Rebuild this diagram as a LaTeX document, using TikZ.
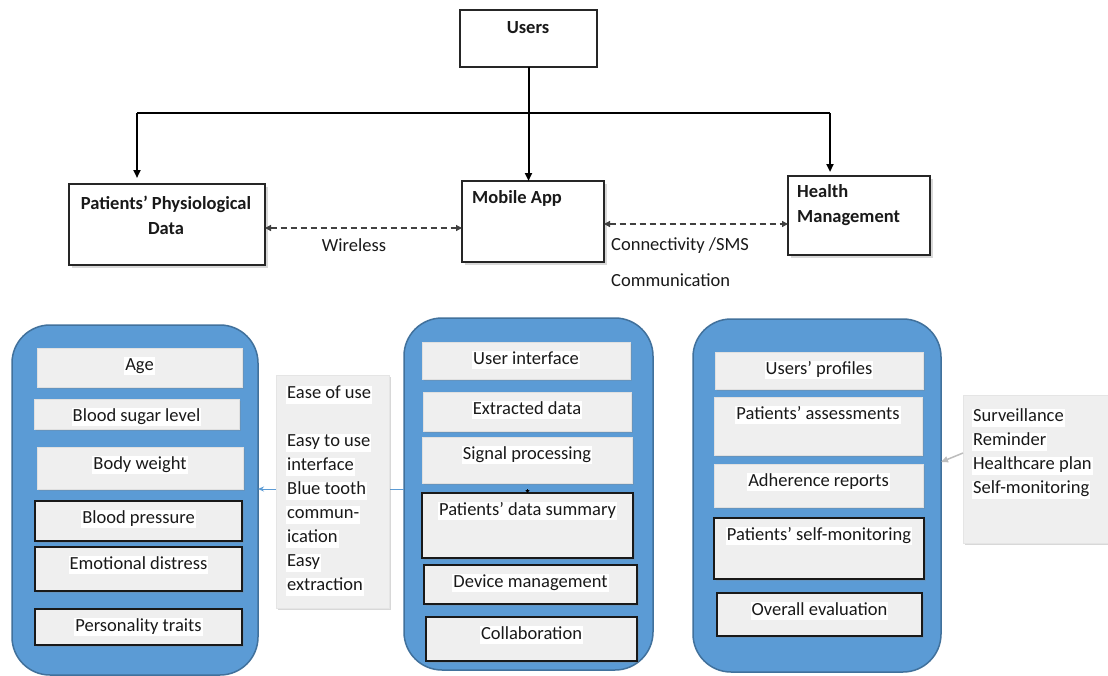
\documentclass[tikz,border=0pt]{standalone}
\usepackage{fontspec}
\setmainfont{Carlito}
\usetikzlibrary{arrows.meta,shadows,calc}

\definecolor{panelblue}{HTML}{5B9BD5}
\definecolor{paneledge}{HTML}{41719C}
\definecolor{cardgray}{HTML}{EFEFEF}
\definecolor{linkblue}{HTML}{5B9BD5}
\definecolor{pointergray}{HTML}{BDBDBD}

\tikzset{
  x=1pt, y=-1pt,
  every node/.style={font=\fontsize{18.5}{24}\selectfont, text=black!90},
  topbox/.style={draw=black!85, line width=1.4pt, fill=white, inner sep=0pt, outer sep=0pt},
  shadowed/.style={drop shadow={opacity=0.3, shadow xshift=2.5pt, shadow yshift=-2.5pt}},
  boldtext/.style={font=\fontsize{18.5}{25}\selectfont\bfseries, inner sep=0pt},
  plaintext/.style={inner sep=0pt},
  panel/.style={draw=paneledge, line width=1.5pt, fill=panelblue, rounded corners=38pt, inner sep=0pt, outer sep=0pt},
  card/.style={fill=cardgray, draw=black!12, line width=0.5pt, inner sep=0pt, outer sep=0pt,
    drop shadow={opacity=0.25, shadow xshift=1.5pt, shadow yshift=-1.5pt}},
  framed/.style={draw=black!90, line width=1.3pt},
  cardtext/.style={fill=white, inner sep=1pt, text height=12pt, text depth=4pt},
  notebox/.style={fill=cardgray, draw=black!10, line width=0.5pt, inner sep=0pt, outer sep=0pt,
    drop shadow={opacity=0.3, shadow xshift=2pt, shadow yshift=-2pt}},
  notetext/.style={fill=white, inner sep=1pt, anchor=west, text height=12pt, text depth=4pt},
  feed/.style={line width=2pt, draw=black},
  feedarrow/.style={feed, -{Triangle[length=8pt,width=7pt]}},
  link/.style={dash pattern=on 6pt off 4pt, line width=1.3pt, draw=black!75,
    {Triangle[length=6pt,width=6pt]}-{Triangle[length=6pt,width=6pt]}},
}

% card inside a panel: name, x1, y1, x2, y2, extra style, label
\newcommand\cardbox[7]{%
  \node[card,#6,minimum width={(#4)-(#2)},minimum height={(#5)-(#3)}] (#1)
    at ({((#2)+(#4))/2},{((#3)+(#5))/2}) {};
  \node[cardtext] (#1-t) at ([yshift=-18pt]#1.north) {#7};
}

\begin{document}
\begin{tikzpicture}
\clip (0,0) rectangle (1108,675);
\fill[white] (0,0) rectangle (1108,675);

% ---------- top level ----------
\node[topbox, minimum width=137, minimum height=57] (users) at (528.5,38.5) {};
\node[boldtext] (users-t) at (528,27.5) {Users};

\node[topbox, shadowed, minimum width=196, minimum height=81] (ppd) at (167,224.5) {};
\node[boldtext, align=center] (ppd-t) at (166,215.5) {Patients’ Physiological\\Data};

\node[topbox, shadowed, minimum width=142, minimum height=81] (mobile) at (533,221.5) {};
\node[boldtext, anchor=west] (mobile-t) at (472,198.5) {Mobile App};

\node[topbox, shadowed, minimum width=142, minimum height=79] (hm) at (859,215.5) {};
\node[boldtext, anchor=west, align=left] (hm-t) at (797,205.5) {Health\\Management};

% distribution from Users
\coordinate (busL) at (137,113);
\coordinate (busR) at (830,113);
\draw[feed] (busL) -- (busR);
\draw[feedarrow] (busL) -- ([yshift=6pt]busL |- ppd.north);
\draw[feedarrow] (users.south) -- (users.south |- mobile.north);
\draw[feedarrow] (busR) -- ([yshift=4pt]busR |- hm.north);

% wireless / SMS links
\draw[link] (ppd.east |- 0,228) -- (mobile.west |- 0,228);
\draw[link] (mobile.east |- 0,224) -- (hm.west |- 0,224);
\node[plaintext] (wl) at (354,245.5) {Wireless};
\node[plaintext, anchor=west] (sms) at (611,245.5) {Connectivity /SMS};
\node[plaintext, anchor=west] (comm) at (611,280.5) {Communication};

% ---------- panels ----------
\node[panel, minimum width=246, minimum height=350] (pleft) at (135,500) {};
\node[panel, minimum width=249, minimum height=352] (pmid) at (528.5,494) {};
\node[panel, minimum width=248, minimum height=353] (pright) at (817,495.5) {};

% physiological data
\cardbox{age}{37}{348}{242}{387}{}{Age}
\cardbox{sugar}{34}{399}{239}{429}{}{Blood sugar level}
\cardbox{weight}{37}{447}{243}{489}{}{Body weight}
\cardbox{bp}{35}{501}{242}{541}{framed}{Blood pressure}
\cardbox{emo}{35}{547}{242}{591}{framed}{Emotional distress}
\cardbox{pers}{35}{609}{242}{645}{framed}{Personality traits}

% mobile app functions
\cardbox{ui}{422}{342}{630}{379}{}{User interface}
\cardbox{extr}{423}{392}{631}{431}{}{Extracted data}
\cardbox{sig}{422}{437}{632}{483}{}{Signal processing}
\cardbox{pds}{422}{493}{633}{558}{framed}{Patients’ data summary}
\cardbox{dev}{424}{565}{637}{604}{framed}{Device management}
\cardbox{coll}{426}{617}{637}{661}{framed}{Collaboration}

% health management functions
\cardbox{prof}{715}{352}{923}{389}{}{Users’ profiles}
\cardbox{assess}{714}{397}{922}{455}{}{Patients’ assessments}
\cardbox{adh}{714}{464}{923}{507}{}{Adherence reports}
\cardbox{selfm}{714}{518}{924}{579}{framed}{Patients’ self-monitoring}
\cardbox{eval}{717}{593}{922}{636}{framed}{Overall evaluation}

\draw[black, line width=1pt, -{Triangle[length=3pt,width=4pt]}] ([yshift=4pt]pds.north) -- (pds.north);

% ---------- notes and pointers ----------
\draw[linkblue, line width=1pt, -{Stealth[length=6pt,width=5pt]}] (pmid.west |- 0,489) -- (pleft.east |- 0,489);

\node[notebox, minimum width=113, minimum height=233] (noteL) at (332.5,491.5) {};
\foreach \yy/\tx in {394.5/Ease of use, 442.5/Easy to use, 466.5/interface, 490.5/Blue tooth,
                     514.5/commun-, 538.5/ication, 562.5/Easy, 586.5/extraction}
  \node[notetext] at (286,\yy) {\tx};

\node[notebox, minimum width=160, minimum height=148] (noteR) at (1043,469) {};
\draw[pointergray, line width=1.5pt, -{Triangle[length=7pt,width=6pt]}] (noteR.west |- 0,453) -- (pright.east |- 0,462);
\foreach \yy/\tx in {417.5/Surveillance, 441.5/Reminder, 465.5/Healthcare plan, 489.5/Self-monitoring}
  \node[notetext] at (972,\yy) {\tx};

\end{tikzpicture}
\end{document}
